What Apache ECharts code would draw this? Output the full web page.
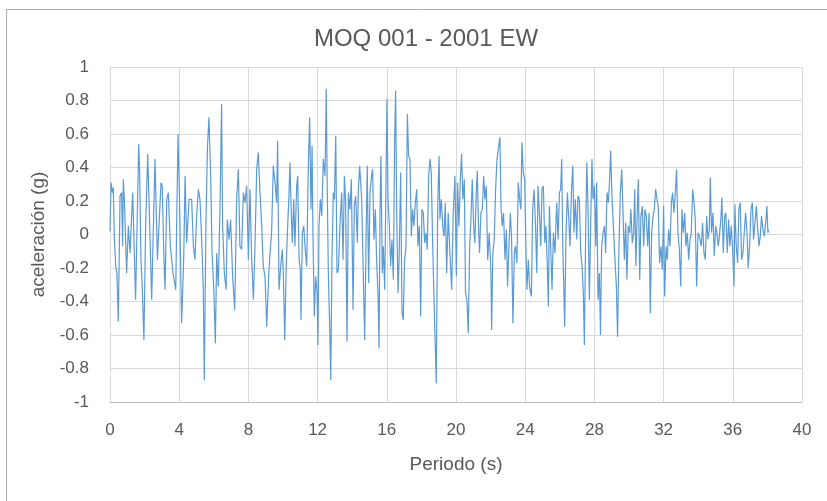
<!DOCTYPE html>
<html>
<head>
<meta charset="utf-8">
<script src="https://cdn.jsdelivr.net/npm/echarts@6/dist/echarts.min.js"></script>
<style>
html, body { margin: 0; padding: 0; background: #fff; }
#chart { width: 827px; height: 501px; }
</style>
</head>
<body>
<div id="chart"></div>
<script>
// tick labels
var xTicks = [0, 4, 8, 12, 16, 20, 24, 28, 32, 36, 40];
var yTicks = [-1, -0.8, -0.6, -0.4, -0.2, 0, 0.2, 0.4, 0.6, 0.8, 1];

var tramo1 = [[0.00,0.02],[0.06,0.31],[0.14,0.25],[0.19,0.28],[0.25,-0.01],[0.33,-0.19],[0.40,-0.23],[0.48,-0.52],
    [0.58,0.23],[0.67,0.25],[0.73,-0.07],[0.77,0.33],[0.83,0.21],[0.96,-0.23],[1.06,0.05],[1.16,-0.11],
    [1.31,0.25],[1.48,-0.39],[1.66,0.54],[1.71,0.39],[1.79,-0.15],[1.87,-0.33],[1.96,-0.63],[2.06,0.05],
    [2.18,0.48],[2.27,0.15],[2.41,-0.39],[2.60,0.45],[2.74,-0.15],[2.83,0.05],[2.95,0.31],[3.02,0.29],
    [3.10,-0.07],[3.18,-0.33],[3.28,0.21],[3.37,0.25],[3.49,-0.07],[3.64,-0.23],[3.80,-0.33],[3.93,0.60],
    [4.01,0.25],[4.14,-0.53],[4.26,-0.15],[4.34,0.35],[4.43,-0.05],[4.57,0.21]];
var tramo2 = [[4.72,0.21],[4.82,-0.07],[4.91,-0.15],[5.01,0.11],[5.11,0.27],[5.20,0.21],[5.30,-0.03],[5.39,-0.31],
    [5.45,-0.87],[5.55,0.09],[5.63,0.51],[5.72,0.70],[5.82,0.35],[5.90,-0.11],[6.01,-0.35],[6.09,-0.65],
    [6.17,-0.11],[6.26,-0.31],[6.36,0.17],[6.45,0.78],[6.51,0.05],[6.61,-0.23],[6.71,-0.33],[6.78,0.09],
    [6.88,-0.03],[6.97,0.09],[7.09,-0.25],[7.21,-0.45],[7.32,0.21],[7.42,0.39],[7.51,-0.07],[7.61,-0.09],
    [7.71,0.25],[7.80,0.19],[7.90,0.29],[8.00,-0.15],[8.09,0.27],[8.19,-0.15],[8.29,-0.39],[8.38,-0.07],
    [8.48,0.39],[8.57,0.49],[8.67,0.25],[8.77,0.05],[8.86,-0.19],[8.96,-0.25],[9.06,-0.55],[9.17,-0.25],
    [9.25,-0.11],[9.34,0.01],[9.44,0.41]];
var tramo3 = [[9.54,0.31],[9.63,0.19],[9.69,0.56],[9.77,-0.33],[9.87,-0.19],[9.96,-0.09],[10.02,-0.23],[10.10,-0.63],
    [10.19,-0.17],[10.27,0.05],[10.35,0.25],[10.40,0.43],[10.46,0.19],[10.54,-0.05],[10.62,0.21],[10.69,-0.07],
    [10.79,0.29],[10.85,0.35],[10.93,-0.15],[11.00,-0.21],[11.04,-0.51],[11.12,0.01],[11.20,0.05],[11.27,-0.07],
    [11.37,-0.19],[11.46,0.39],[11.54,0.70],[11.62,0.15],[11.68,0.53],[11.73,0.01],[11.81,-0.49],[11.89,-0.25],
    [11.97,-0.35],[12.02,-0.66],[12.08,0.05],[12.16,0.21],[12.24,0.11],[12.33,0.45],[12.43,0.35],[12.50,0.87],
    [12.56,0.25],[12.62,-0.23],[12.70,-0.55],[12.76,-0.87],[12.83,-0.15],[12.91,0.25],[12.97,0.21],[13.05,0.59],
    [13.12,-0.23],[13.20,-0.21],[13.29,0.05],[13.39,0.25],[13.47,-0.15],[13.55,0.35],[13.62,0.19],[13.70,-0.64],
    [13.78,0.25],[13.87,0.15],[13.95,0.33],[14.05,-0.45],[14.12,0.17],[14.20,0.23],[14.30,-0.05],[14.35,0.25],
    [14.43,0.41]];
var tramo4 = [[14.55,0.21],[14.64,-0.23],[14.72,-0.63],[14.80,-0.05],[14.87,0.41],[14.95,-0.29],[15.03,0.25],[15.12,0.35],
    [15.18,0.39],[15.26,-0.03],[15.34,0.15],[15.41,-0.15],[15.49,-0.35],[15.55,-0.68],[15.61,0.15],[15.66,0.47],
    [15.74,-0.23],[15.80,-0.07],[15.88,-0.33],[15.95,0.29],[16.01,0.81],[16.07,0.21],[16.15,0.05],[16.22,-0.19],
    [16.30,-0.03],[16.38,-0.27],[16.45,0.55],[16.51,0.86],[16.57,0.15],[16.65,-0.35],[16.72,-0.11],[16.80,0.37],
    [16.88,-0.47],[16.95,-0.51],[17.03,-0.15],[17.11,-0.07],[17.19,0.72],[17.26,0.47],[17.34,0.45],[17.42,-0.01],
    [17.49,0.15],[17.57,0.05],[17.65,0.19],[17.73,0.27],[17.80,-0.07],[17.88,0.05],[17.96,-0.49],[18.03,0.15],
    [18.11,0.13],[18.19,-0.05],[18.27,0.01],[18.34,-0.09],[18.42,0.35],[18.50,0.45],[18.57,0.37],[18.65,-0.05],
    [18.73,-0.39],[18.80,-0.39],[18.86,-0.89],[18.94,0.15],[19.02,0.47],[19.07,0.09],[19.15,0.21],[19.23,0.05],
    [19.31,-0.01],[19.38,0.19]];
var tramo5 = [[19.46,-0.23],[19.55,0.13],[19.65,-0.11],[19.75,-0.33],[19.84,0.13],[19.94,0.35],[20.02,-0.25],[20.09,0.31],
    [20.17,0.05],[20.25,0.33],[20.32,0.48],[20.40,0.21],[20.48,0.33],[20.55,-0.35],[20.63,-0.39],[20.71,-0.59],
    [20.79,-0.07],[20.86,0.09],[20.94,0.33],[21.02,0.05],[21.09,-0.05],[21.17,0.25],[21.23,0.38],[21.29,0.09],
    [21.36,-0.11],[21.44,0.13],[21.52,0.15],[21.60,0.35],[21.67,0.21],[21.75,0.29],[21.83,-0.15],[21.92,0.01],
    [22.02,-0.23],[22.06,-0.57],[22.13,-0.11],[22.21,-0.03],[22.29,0.27],[22.37,0.45],[22.44,0.46],[22.54,0.58],
    [22.60,0.17],[22.67,0.05],[22.75,0.13],[22.83,-0.15],[22.91,0.03],[22.98,-0.31],[23.06,-0.07],[23.14,0.13],
    [23.21,-0.01],[23.29,-0.53],[23.37,-0.11],[23.44,-0.07],[23.52,-0.17],[23.60,0.31],[23.68,0.21],[23.75,0.15],
    [23.81,0.55],[23.89,0.37],[23.97,0.33],[24.04,-0.07],[24.10,-0.33],[24.18,-0.15],[24.25,-0.31]];
var tramo6 = [[24.36,-0.37],[24.43,0.15],[24.51,0.27],[24.59,0.07],[24.67,-0.23],[24.74,0.29],[24.82,0.13],[24.90,-0.07],
    [24.97,0.27],[25.05,0.29],[25.13,-0.05],[25.20,0.05],[25.28,-0.19],[25.34,-0.43],[25.40,0.17],[25.47,-0.07],
    [25.55,-0.33],[25.63,0.01],[25.72,-0.11],[25.82,0.19],[25.90,-0.03],[25.98,0.25],[26.05,0.27],[26.11,0.45],
    [26.17,-0.05],[26.23,-0.31],[26.28,-0.55],[26.36,0.01],[26.44,0.25],[26.52,0.09],[26.59,-0.07],[26.67,0.25],
    [26.75,0.41],[26.82,0.01],[26.90,0.21],[26.98,-0.03],[27.05,0.23],[27.13,0.21],[27.21,-0.11],[27.29,-0.19],
    [27.36,-0.35],[27.42,-0.66],[27.50,0.05],[27.56,0.43],[27.63,0.17],[27.71,-0.39],[27.79,0.09],[27.86,0.45],
    [27.92,0.21],[28.00,0.29],[28.08,-0.07],[28.13,0.31],[28.21,-0.39],[28.29,-0.23],[28.35,-0.60],[28.42,-0.07],
    [28.50,0.01],[28.58,0.05],[28.65,-0.11],[28.73,0.25],[28.81,0.19],[28.88,0.33],[28.94,0.50],[29.02,0.21],
    [29.10,0.05],[29.17,-0.11]];
var tramo7 = [[29.27,-0.31],[29.34,-0.61],[29.42,-0.07],[29.50,0.25],[29.58,0.39],[29.65,0.15],[29.73,-0.15],[29.81,0.07],
    [29.88,-0.27],[29.96,0.05],[30.04,0.01],[30.11,0.15],[30.19,-0.05],[30.27,0.01],[30.33,0.27],[30.40,-0.19],
    [30.48,0.15],[30.54,0.33],[30.62,-0.27],[30.69,0.11],[30.77,0.17],[30.85,-0.07],[30.92,0.15],[31.00,0.11],
    [31.08,-0.07],[31.16,0.13],[31.23,-0.47],[31.31,0.01],[31.39,0.11],[31.46,0.15],[31.54,0.27],[31.62,0.21],
    [31.69,0.17],[31.77,-0.17],[31.85,-0.07],[31.93,-0.21],[32.00,0.17],[32.06,-0.37],[32.14,-0.07],[32.21,-0.15],
    [32.29,0.03],[32.37,-0.07],[32.45,0.19],[32.52,0.25],[32.60,0.13],[32.68,0.25],[32.75,0.39],[32.83,0.01],
    [32.91,-0.09],[32.99,-0.31],[33.06,0.15],[33.14,0.01],[33.22,0.13],[33.29,-0.07],[33.37,0.01],[33.45,-0.15],
    [33.53,-0.03],[33.60,0.01],[33.68,0.27],[33.76,0.19],[33.83,0.09],[33.91,-0.31],[33.99,0.01],[34.07,-0.01]];
var tramo8 = [[34.18,-0.07],[34.25,0.07],[34.33,-0.11],[34.41,-0.15],[34.49,0.11],[34.56,-0.03],[34.64,0.03],[34.70,0.34],
    [34.77,0.01],[34.85,0.13],[34.93,-0.13],[35.01,0.05],[35.08,0.01],[35.16,-0.07],[35.24,0.01],[35.31,0.09],
    [35.37,0.22],[35.45,-0.11],[35.53,0.11],[35.60,0.13],[35.68,-0.11],[35.76,0.09],[35.83,-0.07],[35.91,0.05],
    [35.99,-0.09],[36.07,-0.31],[36.12,0.18],[36.20,-0.07],[36.28,-0.17],[36.35,0.15],[36.43,0.19],[36.51,-0.15],
    [36.59,-0.11],[36.66,0.01],[36.74,0.13],[36.82,0.01],[36.89,-0.20],[36.97,-0.07],[37.05,0.15],[37.13,0.19],
    [37.20,-0.03],[37.28,0.07],[37.36,0.17],[37.43,0.05],[37.51,-0.07],[37.59,-0.01],[37.66,0.11],[37.74,0.03],
    [37.82,-0.01],[37.90,0.07],[37.97,0.17],[38.03,0.01],[38.07,0.03]];

var registro = [].concat(tramo1, tramo2, tramo3, tramo4, tramo5, tramo6, tramo7, tramo8);

var chart = echarts.init(document.getElementById('chart'));

var textColor = '#595959';
var gridColor = '#D9D9D9';

var option = {
    animation: false,
    textStyle: { fontFamily: 'Liberation Sans, Arial, sans-serif' },
    title: {
        text: 'MOQ 001 - 2001 EW',
        left: 426,
        textAlign: 'center',
        top: 27,
        padding: 0,
        textStyle: { fontSize: 24, fontWeight: 'normal', color: textColor }
    },
    graphic: [{
        type: 'rect',
        shape: { x: 6.5, y: 9.5, width: 900, height: 600 },
        style: { fill: 'none', stroke: '#ABABAB', lineWidth: 1 },
        silent: true
    }],
    grid: { left: 110, right: 25, top: 67, bottom: 99 },
    xAxis: {
        type: 'value',
        min: xTicks[0],
        max: xTicks[xTicks.length - 1],
        interval: xTicks[1] - xTicks[0],
        name: 'Periodo (s)',
        nameLocation: 'middle',
        nameGap: 53,
        nameTextStyle: { fontSize: 19, color: textColor },
        axisLine: { show: true, onZero: false, lineStyle: { color: '#BFBFBF', width: 1 } },
        axisTick: { show: false },
        axisLabel: { fontSize: 17, color: textColor, margin: 20 },
        splitLine: { show: true, lineStyle: { color: gridColor, width: 1 } }
    },
    yAxis: {
        type: 'value',
        min: yTicks[0],
        max: yTicks[yTicks.length - 1],
        interval: 0.2,
        name: 'aceleración (g)',
        nameLocation: 'middle',
        nameGap: 62,
        nameTextStyle: { fontSize: 19, color: textColor },
        axisLine: { show: false },
        axisTick: { show: false },
        axisLabel: {
            fontSize: 17,
            color: textColor,
            margin: 21,
            formatter: function (v) { return String(Math.round(v * 10) / 10); }
        },
        splitLine: { show: true, lineStyle: { color: gridColor, width: 1 } }
    },
    series: [{
        name: 'aceleración',
        type: 'line',
        data: registro,
        showSymbol: false,
        symbol: 'none',
        lineStyle: { color: '#5B9BD5', width: 1.2 },
        emphasis: { disabled: true }
    }]
};

chart.setOption(option);
</script>
</body>
</html>
